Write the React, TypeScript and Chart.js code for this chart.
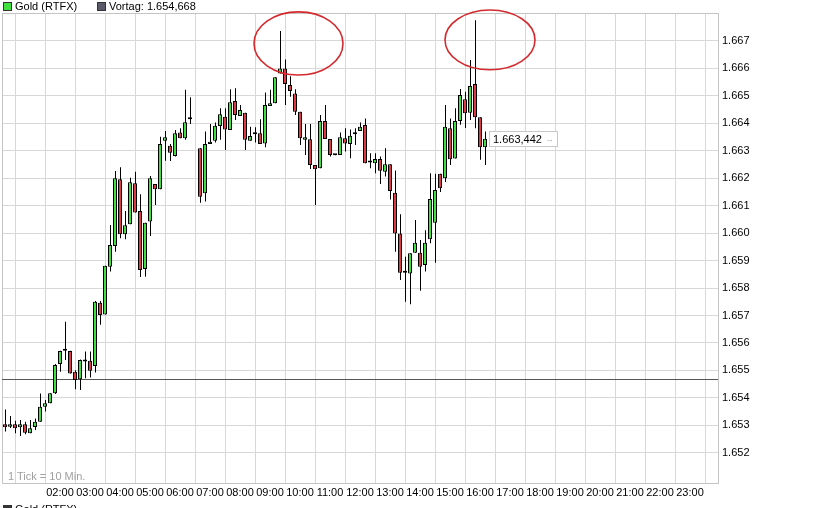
import React, { useEffect, useRef } from "react";
import { Chart, registerables } from "chart.js";

Chart.register(...registerables);

// ---------- data ----------
const seriesName = "Gold (RTFX)";
const vortagLabel = "Vortag: 1.654,668";
const vortag = 1.654668;
const tickNote = "1 Tick = 10 Min.";
const lastPriceLabel = "1.663,442";

const times = [
  "00:10", "00:20", "00:30", "00:40", "00:50",
  "01:00", "01:10", "01:20", "01:30", "01:40", "01:50",
  "02:00", "02:10", "02:20", "02:30", "02:40", "02:50",
  "03:00", "03:10", "03:20", "03:30", "03:40", "03:50",
  "04:00", "04:10", "04:20", "04:30", "04:40", "04:50",
  "05:00", "05:10", "05:20", "05:30", "05:40", "05:50",
  "06:00", "06:10", "06:20", "06:40", "06:50",
  "07:00", "07:10", "07:20", "07:30", "07:40", "07:50",
  "08:00", "08:10", "08:20", "08:30", "08:40", "08:50",
  "09:00", "09:10", "09:20", "09:30", "09:40", "09:50",
  "10:00", "10:10", "10:20", "10:30", "10:40", "10:50",
  "11:00", "11:10", "11:20", "11:30", "11:40", "11:50",
  "12:00", "12:10", "12:20", "12:30", "12:40", "12:50",
  "13:00", "13:10", "13:20", "13:30", "13:40", "13:50",
  "14:00", "14:10", "14:20", "14:30", "14:40", "14:50",
  "15:00", "15:10", "15:20", "15:30", "15:40", "15:50",
  "16:00", "16:10",
];

const opens = [
  1.65304, 1.65295, 1.65304, 1.65293, 1.65304,
  1.65271, 1.65294, 1.65313, 1.65368, 1.6538, 1.65417,
  1.65523, 1.65572, 1.65571, 1.65495, 1.65468, 1.65532,
  1.65535, 1.65516, 1.65746, 1.65704, 1.65878, 1.65953,
  1.66196, 1.65996, 1.66032, 1.66182, 1.66081, 1.65869,
  1.66042, 1.66179, 1.6616, 1.66337, 1.66318, 1.66281,
  1.66367, 1.66346, 1.66415, 1.66309, 1.66145,
  1.66325, 1.66337, 1.6639, 1.66424, 1.66376, 1.66481,
  1.66427, 1.66439, 1.66337, 1.6636, 1.66364, 1.66327,
  1.66463, 1.66473, 1.66582, 1.666, 1.6654, 1.66509,
  1.66442, 1.6634, 1.66342, 1.66248, 1.66236, 1.66409,
  1.66343, 1.66284, 1.66285, 1.66346, 1.66325, 1.6636,
  1.66372, 1.66394, 1.66257, 1.66255, 1.6627, 1.66224,
  1.66251, 1.66147, 1.65999, 1.65863, 1.65853, 1.65929,
  1.65929, 1.65884, 1.65978, 1.66038, 1.66216, 1.662,
  1.66382, 1.66272, 1.66409, 1.66488, 1.66439, 1.66543,
  1.66422, 1.66313,
];

const highs = [
  1.65358, 1.65334, 1.65317, 1.65319, 1.65313,
  1.65319, 1.65325, 1.65416, 1.65392, 1.65417, 1.65523,
  1.65572, 1.65677, 1.65572, 1.65501, 1.6554, 1.65569,
  1.65569, 1.65753, 1.65753, 1.65881, 1.6603, 1.66226,
  1.6624, 1.66081, 1.66202, 1.66224, 1.66142, 1.66038,
  1.66208, 1.66179, 1.66351, 1.66372, 1.66325, 1.66376,
  1.66382, 1.66522, 1.66495, 1.66309, 1.6637,
  1.66398, 1.66403, 1.66455, 1.66455, 1.66524, 1.66528,
  1.66467, 1.66439, 1.66388, 1.66386, 1.66415, 1.66512,
  1.66522, 1.66568, 1.66736, 1.66633, 1.66572, 1.66524,
  1.66442, 1.66398, 1.66398, 1.66248, 1.6643, 1.66467,
  1.66343, 1.66288, 1.66367, 1.66382, 1.66378, 1.66382,
  1.66403, 1.66418, 1.66291, 1.66291, 1.66279, 1.66309,
  1.66251, 1.66228, 1.66069, 1.65914, 1.65927, 1.66048,
  1.65975, 1.66011, 1.66218, 1.66216, 1.66216, 1.66467,
  1.66418, 1.66455, 1.66525, 1.66515, 1.66631, 1.66776,
  1.66422, 1.6637,
];

const lows = [
  1.65277, 1.6529, 1.65271, 1.65261, 1.65267,
  1.65271, 1.65283, 1.65313, 1.6535, 1.6538, 1.65414,
  1.65495, 1.65538, 1.65489, 1.65431, 1.65429, 1.65471,
  1.65474, 1.65492, 1.65666, 1.65704, 1.6586, 1.65932,
  1.65981, 1.65978, 1.66032, 1.66075, 1.6584, 1.65841,
  1.6599, 1.66103, 1.6616, 1.66264, 1.66263, 1.66279,
  1.66346, 1.6634, 1.66398, 1.66111, 1.66115,
  1.66325, 1.6633, 1.6634, 1.66303, 1.66376, 1.66412,
  1.66427, 1.66303, 1.66337, 1.6633, 1.66325, 1.66313,
  1.66463, 1.66473, 1.66582, 1.66467, 1.66497, 1.6643,
  1.66321, 1.66285, 1.66234, 1.66103, 1.66236, 1.66343,
  1.66279, 1.66284, 1.66285, 1.66297, 1.66273, 1.66321,
  1.66372, 1.66255, 1.66236, 1.66218, 1.66179, 1.66206,
  1.66123, 1.65932, 1.65829, 1.6575, 1.65741, 1.65929,
  1.6579, 1.6586, 1.65963, 1.65892, 1.6615, 1.66186,
  1.66248, 1.66272, 1.66395, 1.66383, 1.66412, 1.66382,
  1.66267, 1.66248,
];

const closes = [
  1.65293, 1.65304, 1.65289, 1.65304, 1.65273,
  1.65289, 1.65313, 1.65368, 1.6538, 1.65417, 1.6552,
  1.65571, 1.65572, 1.65489, 1.65465, 1.65538, 1.65532,
  1.65499, 1.6575, 1.65702, 1.65881, 1.65957, 1.662,
  1.65996, 1.66029, 1.66185, 1.66075, 1.65866, 1.66038,
  1.662, 1.6616, 1.66325, 1.66349, 1.66293, 1.66364,
  1.66346, 1.66404, 1.66422, 1.66133, 1.66325,
  1.66333, 1.66391, 1.66433, 1.66378, 1.66477, 1.6643,
  1.66449, 1.6634, 1.66354, 1.6636, 1.66325, 1.66467,
  1.66473, 1.66568, 1.666, 1.66543, 1.66518, 1.66442,
  1.66346, 1.66349, 1.66248, 1.66233, 1.66409, 1.66343,
  1.66285, 1.66288, 1.66349, 1.66327, 1.66355, 1.6636,
  1.66388, 1.66255, 1.66257, 1.6627, 1.66227, 1.66251,
  1.66154, 1.65999, 1.65856, 1.65856, 1.65927, 1.65965,
  1.65878, 1.65965, 1.66124, 1.66157, 1.66164, 1.66388,
  1.66269, 1.66409, 1.66503, 1.66437, 1.66536, 1.66422,
  1.66313, 1.663442,
];

const yTickValues = [
  1.652, 1.653, 1.654, 1.655, 1.656, 1.657, 1.658, 1.659,
  1.66, 1.661, 1.662, 1.663, 1.664, 1.665, 1.666, 1.667,
];

const xGridHours = [
  "01:00", "02:00", "03:00", "04:00", "05:00", "06:00", "07:00", "08:00",
  "09:00", "10:00", "11:00", "12:00", "13:00", "14:00", "15:00", "16:00",
  "17:00", "18:00", "19:00", "20:00", "21:00", "22:00", "23:00",
];
const xTickLabels = [
  "02:00", "03:00", "04:00", "05:00", "06:00", "07:00", "08:00", "09:00",
  "10:00", "11:00", "12:00", "13:00", "14:00", "15:00", "16:00", "17:00",
  "18:00", "19:00", "20:00", "21:00", "22:00", "23:00",
];

// highlight ellipses (centre time / price, radii in minutes / price units)
const circleTimes = ["09:57", "16:20"];
const circlePrices = [1.66691, 1.66704];
const circleRadiusMin = [89, 90];
const circleRadiusPrice = [0.00115, 0.00109];

// ---------- helpers / layout ----------
const toMin = (s: string) => {
  const [h, m] = s.split(":").map((v) => parseInt(v, 10));
  return h * 60 + m;
};
const pad = (n: number) => String(n).padStart(2, "0");
const fmtTime = (v: number) => `${pad(Math.floor(v / 60))}:${pad(Math.round(v % 60))}`;

const X_MIN = 4;
const X_MAX = 1436;
const Y_MIN = 1.650898;
const Y_MAX = 1.66802;

const GREEN = "#3fe03f";
const RED = "#dd3a44";
const GRID = "#d8d8d8";
const FRAME = "#c4c4c4";
const FONT = '"Liberation Sans", Arial, sans-serif';

const framePlugin = {
  id: "frame",
  beforeDatasetsDraw(chart: any) {
    const { ctx, chartArea } = chart;
    ctx.save();
    ctx.strokeStyle = FRAME;
    ctx.lineWidth = 1;
    ctx.strokeRect(
      chartArea.left + 0.5,
      chartArea.top + 0.5,
      chartArea.right - chartArea.left,
      chartArea.bottom - chartArea.top
    );
    ctx.restore();
  },
};

const overlayPlugin = {
  id: "overlay",
  afterDatasetsDraw(chart: any) {
    const { ctx } = chart;
    const xs = chart.scales.x;
    const ys = chart.scales.y;
    ctx.save();
    // red ellipses
    ctx.strokeStyle = "#d42a2e";
    ctx.lineWidth = 1.6;
    circleTimes.forEach((t, i) => {
      const tm = toMin(t);
      const cx = xs.getPixelForValue(tm);
      const cy = ys.getPixelForValue(circlePrices[i]);
      const rx = Math.abs(xs.getPixelForValue(tm + circleRadiusMin[i]) - cx);
      const ry = Math.abs(ys.getPixelForValue(circlePrices[i] + circleRadiusPrice[i]) - cy);
      ctx.beginPath();
      ctx.ellipse(cx, cy, rx, ry, 0, 0, Math.PI * 2);
      ctx.stroke();
    });
    // last price box
    const last = times.length - 1;
    const px = Math.round(xs.getPixelForValue(toMin(times[last]))) + 4;
    const py = Math.round(ys.getPixelForValue(closes[last]));
    ctx.font = `11px ${FONT}`;
    const tw = ctx.measureText(lastPriceLabel).width;
    const w = Math.round(tw + 19);
    ctx.fillStyle = "#ffffff";
    ctx.fillRect(px, py - 8, w, 15);
    ctx.strokeStyle = "#c8c8c8";
    ctx.lineWidth = 1;
    ctx.strokeRect(px + 0.5, py - 7.5, w, 15);
    ctx.fillStyle = "#000";
    ctx.textBaseline = "middle";
    ctx.textAlign = "left";
    ctx.fillText(lastPriceLabel, px + 4, py + 0.5);
    ctx.fillStyle = "#b4b4b4";
    ctx.font = `9px ${FONT}`;
    ctx.fillText("\u2192", px + 4 + tw + 3, py + 0.5);
    ctx.restore();
  },
};

export default function App() {
  const ref = useRef<HTMLCanvasElement>(null);

  useEffect(() => {
    const bodyData = times.map((t, i) => ({ x: toMin(t), y: [opens[i], closes[i]] }));
    const wickData = times.map((t, i) => ({ x: toMin(t), y: [lows[i], highs[i]] }));
    const bodyColors = times.map((_, i) => (closes[i] >= opens[i] ? GREEN : RED));

    const chart = new Chart(ref.current as HTMLCanvasElement, {
      type: "bar",
      data: {
        datasets: [
          {
            type: "bar",
            label: seriesName,
            data: bodyData as any,
            backgroundColor: bodyColors,
            borderColor: "#000",
            borderWidth: 1,
            borderSkipped: false,
            barThickness: 4,
            minBarLength: 2,
            grouped: false,
            inflateAmount: 0,
            order: 0,
            xAxisID: "x",
            yAxisID: "y",
          } as any,
          {
            type: "bar",
            label: "range",
            data: wickData as any,
            backgroundColor: "#000",
            borderWidth: 0,
            barThickness: 1,
            grouped: false,
            inflateAmount: 0,
            order: 1,
            xAxisID: "xw",
            yAxisID: "y",
          } as any,
          {
            type: "line",
            label: vortagLabel,
            data: [
              { x: X_MIN, y: vortag },
              { x: X_MAX, y: vortag },
            ] as any,
            borderColor: "#555555",
            borderWidth: 1,
            pointRadius: 0,
            order: 2,
            xAxisID: "x",
            yAxisID: "y",
          } as any,
        ],
      },
      options: {
        responsive: false,
        animation: false,
        events: [],
        layout: { padding: { left: 2, top: 13, right: 0, bottom: 0 } },
        plugins: { legend: { display: false }, tooltip: { enabled: false } },
        scales: {
          x: {
            type: "linear",
            position: "bottom",
            min: X_MIN,
            max: X_MAX,
            offset: false,
            afterBuildTicks: (s: any) => {
              s.ticks = xGridHours.map((h) => ({ value: toMin(h) }));
            },
            afterFit: (s: any) => {
              s.height = 25;
            },
            ticks: {
              autoSkip: false,
              maxRotation: 0,
              minRotation: 0,
              padding: 3,
              color: "#000",
              font: { family: FONT, size: 11 },
              callback: (v: any) => {
                const l = fmtTime(Number(v));
                return xTickLabels.includes(l) ? l : "";
              },
            },
            grid: { color: GRID, drawTicks: false },
            border: { color: FRAME },
          },
          xw: {
            type: "linear",
            display: false,
            min: X_MIN - 1,
            max: X_MAX - 1,
            offset: false,
          },
          y: {
            type: "linear",
            position: "right",
            min: Y_MIN,
            max: Y_MAX,
            afterBuildTicks: (s: any) => {
              s.ticks = yTickValues.map((v) => ({ value: v }));
            },
            afterFit: (s: any) => {
              s.width = 110;
            },
            ticks: {
              padding: 4,
              color: "#000",
              font: { family: FONT, size: 11 },
              callback: (v: any) => Number(v).toFixed(3),
            },
            grid: { color: GRID, drawTicks: false },
            border: { color: FRAME },
          },
        } as any,
      },
      plugins: [framePlugin, overlayPlugin],
    });
    return () => chart.destroy();
  }, []);

  const sq = (bg: string, left: number, top: number) => (
    <div
      style={{
        position: "absolute",
        left,
        top,
        width: 7,
        height: 7,
        background: bg,
        border: "1px solid #333",
      }}
    />
  );
  const txt = (s: string, left: number, top: number, color = "#000") => (
    <div
      style={{
        position: "absolute",
        left,
        top,
        lineHeight: "11px",
        fontSize: 11,
        color,
        whiteSpace: "nowrap",
      }}
    >
      {s}
    </div>
  );

  return (
    <div
      style={{
        position: "absolute",
        left: 0,
        top: 0,
        width: 828,
        height: 508,
        overflow: "hidden",
        background: "#fff",
        fontFamily: FONT,
      }}
    >
      <canvas ref={ref} width={828} height={508} style={{ position: "absolute", left: 0, top: 0 }} />
      {sq(GREEN, 3, 2)}
      {txt(seriesName, 15, 1)}
      {sq("#5a5a68", 97, 2)}
      {txt(vortagLabel, 109, 1)}
      {txt(tickNote, 8, 471, "#a0a0a0")}
      {sq("#333", 3, 505)}
      {txt(seriesName, 15, 504)}
    </div>
  );
}
